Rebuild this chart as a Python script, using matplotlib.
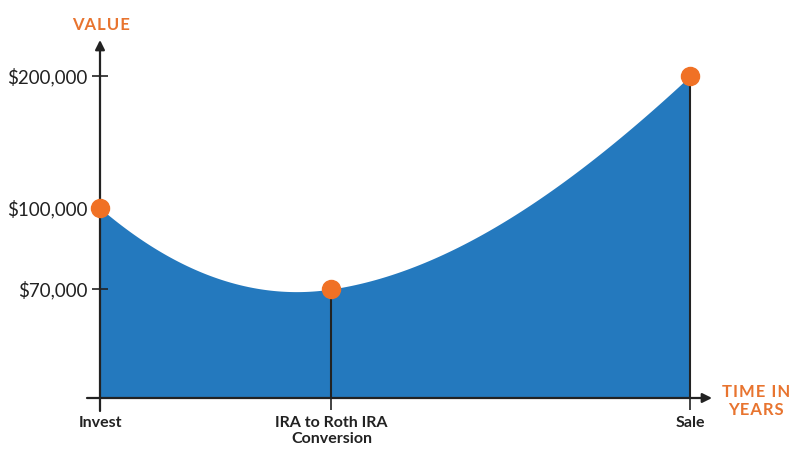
import numpy as np
import matplotlib
matplotlib.use('Agg')
import matplotlib.pyplot as plt

plt.rcParams['font.family'] = ['Lato', 'DejaVu Sans']

events = ['Invest', 'IRA to Roth IRA\nConversion', 'Sale']
times = [0, 1, 2.55]
values = [100000, 70000, 200000]
ytick_values = [70000, 100000, 200000]
ytick_labels = ['$70,000', '$100,000', '$200,000']

# the value axis in the original is schematic (not linear), so map values
# to heights piecewise and let matplotlib use that as the y scale
scale_vals = [0, 70000, 100000, 200000, 300000]
scale_pos = [0, 109, 190, 322, 454]

def fwd(v):
    return np.interp(v, scale_vals, scale_pos)

def inv(p):
    return np.interp(p, scale_pos, scale_vals)

dark = '#222222'
blue = '#2479be'
orange = '#f07125'
title_orange = '#e8742f'

fig = plt.figure(figsize=(8, 4.66), dpi=100)
ax = fig.add_axes([100/800, 68/466, 612/800, 358/466])
ax.set_yscale('function', functions=(fwd, inv))
ax.set_xlim(0, 2.645)
ax.set_ylim(0, inv(358))

# smooth curve through the points (hermite in display space)
slopes = [-0.855, 0.15, 0.93]
pts = ax.transData.transform(np.column_stack([times, values]))
cx, cy = [], []
for i in range(len(pts) - 1):
    (x0, y0), (x1, y1) = pts[i], pts[i + 1]
    d = x1 - x0
    t = np.linspace(0, 1, 120)
    h00 = 2*t**3 - 3*t**2 + 1
    h10 = t**3 - 2*t**2 + t
    h01 = -2*t**3 + 3*t**2
    h11 = t**3 - t**2
    cx.append(x0 + t*d)
    cy.append(h00*y0 + h10*d*slopes[i] + h01*y1 + h11*d*slopes[i + 1])
curve = ax.transData.inverted().transform(np.column_stack([np.concatenate(cx), np.concatenate(cy)]))
ax.fill_between(curve[:, 0], 0, curve[:, 1], color=blue, lw=0, zorder=1)

ax.vlines(times[1:], 0, values[1:], color=dark, lw=1.5, zorder=2)
ax.plot(times, values, 'o', ms=13, color=orange, zorder=5, clip_on=False)

for s in ax.spines.values():
    s.set_visible(False)

# axis lines with arrows
arrow = dict(arrowstyle='-|>', color=dark, lw=1.6, mutation_scale=14, shrinkA=0, shrinkB=0)
ax.annotate('', xy=(0, 1), xytext=(0, -13/358), xycoords='axes fraction', arrowprops=arrow)
ax.annotate('', xy=(1, 0), xytext=(-13/612, 0), xycoords='axes fraction', arrowprops=arrow)

ax.set_yticks(ytick_values)
ax.set_yticklabels(ytick_labels)
ax.tick_params(axis='y', direction='inout', length=11, width=1.2, color=dark,
               labelsize=13.5, labelcolor=dark, pad=3.5)
ax.minorticks_off()
ax.set_xticks(times)
ax.set_xticklabels(events, fontweight='bold')
ax.tick_params(axis='x', direction='out', length=8.6, width=1.2, color=dark,
               labelsize=11.5, labelcolor=dark, pad=4.5)

# letter-spaced orange axis titles
def spaced(s):
    return '\u200a'.join(s)

fig.text(101/800, 1 - 25/466, spaced('VALUE'), ha='center', va='center', color=title_orange,
         fontsize=12, fontweight='bold')
fig.text(756/800, 1 - 401/466, spaced('TIME IN') + '\n' + spaced('YEARS'), ha='center',
         va='center', color=title_orange, fontsize=12, fontweight='bold', linespacing=1.1)

fig.savefig('out.png', dpi=100)
